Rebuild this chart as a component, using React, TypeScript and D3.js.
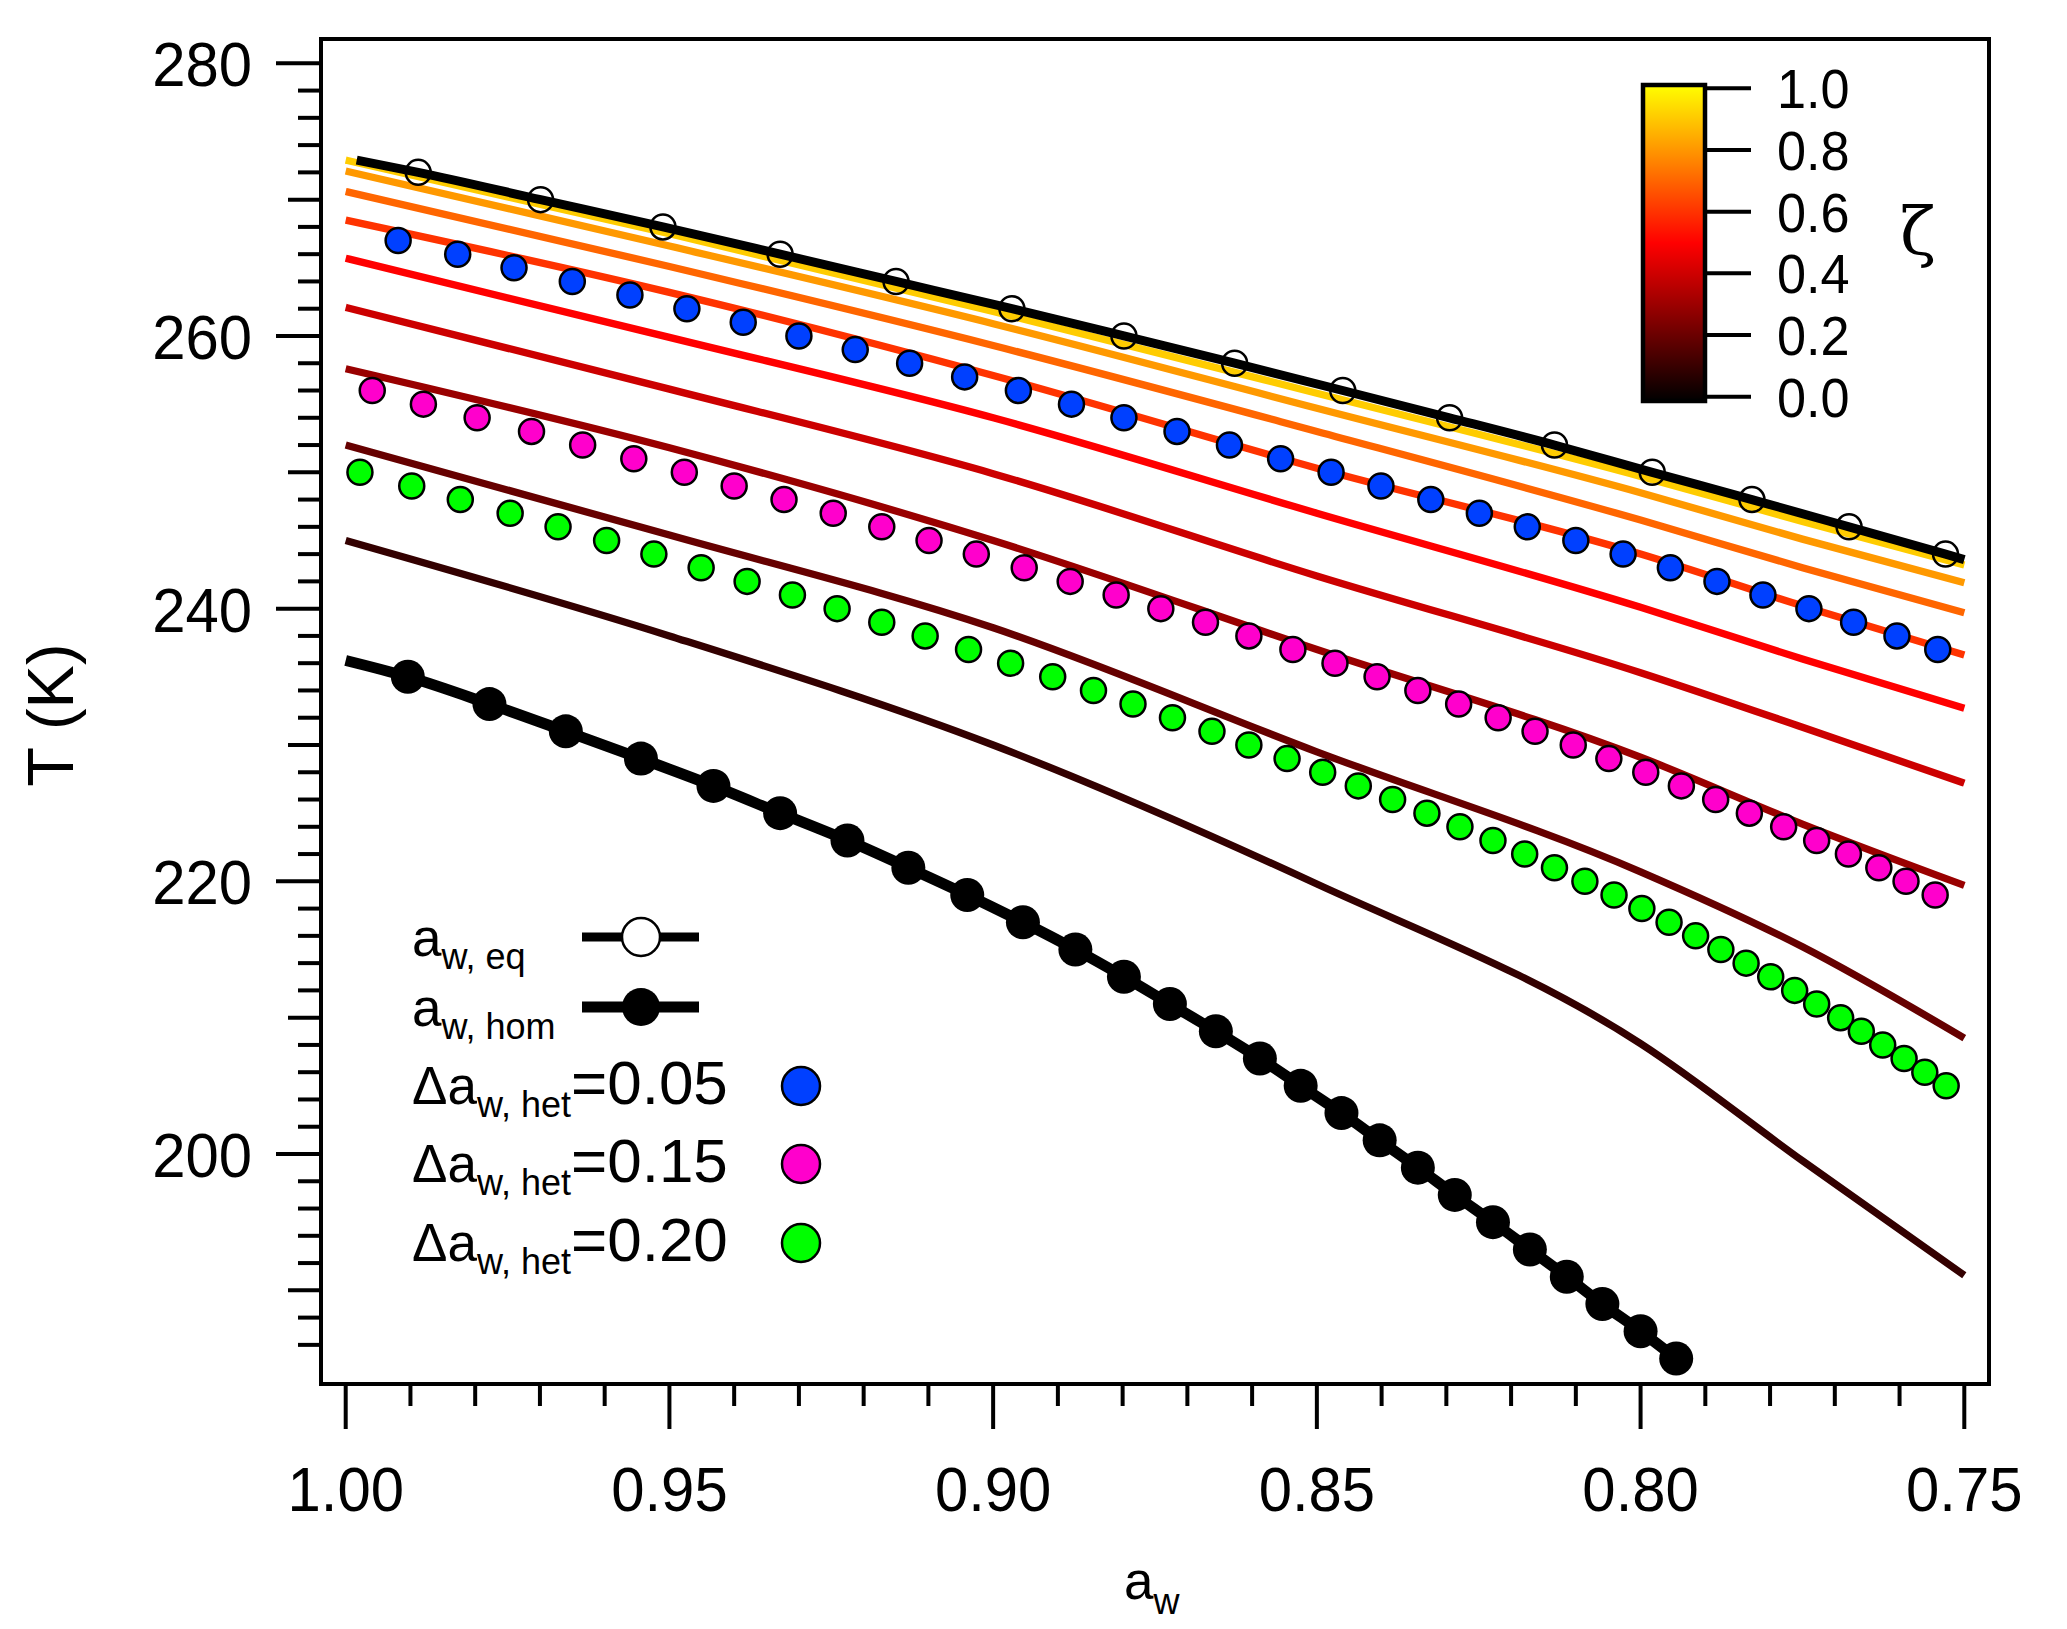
import React from "react";
import * as d3 from "d3";

const W = 2067;
const H = 1629;
const FONT = "'Liberation Sans', Arial, Helvetica, sans-serif";

// model curves for different zeta, T (K) read at these water activities
const curveAw = [1.0, 0.95, 0.9, 0.85, 0.8, 0.775, 0.75];
const zetaList = [0.9, 0.8, 0.7, 0.6, 0.5, 0.4, 0.3, 0.2, 0.1];
const tZeta09 = [272.9, 267.5, 261.8, 255.8, 249.7, 246.4, 243.2];
const tZeta08 = [272.1, 266.6, 260.9, 254.7, 248.5, 245.1, 241.9];
const tZeta07 = [270.6, 265.1, 259.3, 253.0, 246.5, 243.0, 239.7];
const tZeta06 = [268.5, 263.2, 257.1, 250.3, 244.0, 240.2, 236.6];
const tZeta05 = [265.7, 259.9, 254.0, 247.0, 240.1, 236.3, 232.7];
const tZeta04 = [262.1, 256.1, 249.9, 242.4, 235.3, 231.3, 227.2];
const tZeta03 = [257.6, 251.8, 245.0, 237.0, 229.1, 224.2, 219.7];
const tZeta02 = [252.0, 245.4, 238.6, 229.5, 220.7, 215.2, 208.5];
const tZeta01 = [245.0, 238.0, 230.0, 219.8, 208.1, 199.5, 191.1];
const zetaCurves = [tZeta09, tZeta08, tZeta07, tZeta06, tZeta05, tZeta04, tZeta03, tZeta02, tZeta01];

// ice melting (equilibrium) curve
const eqStart = [0.9983, 272.9];
const eqEnd = [0.75, 243.6];
const eqT = [272, 270, 268, 266, 264, 262, 260, 258, 256, 254, 252, 250, 248, 246, 244];
const eqAw = [0.9888, 0.9699, 0.951, 0.9329, 0.915, 0.8971, 0.8798, 0.8627, 0.846, 0.8295, 0.8133, 0.7982, 0.7828, 0.7678, 0.7529];

// homogeneous freezing curve
const homStart = [1.0, 236.2];
const homT = [235, 233, 231, 229, 227, 225, 223, 221, 219, 217, 215, 213, 211, 209, 207, 205, 203, 201, 199, 197, 195, 193, 191, 189, 187, 185];
const homAw = [0.9904, 0.9778, 0.966, 0.9544, 0.9432, 0.9329, 0.9225, 0.9131, 0.904, 0.8954, 0.8873, 0.8798, 0.8727, 0.8656, 0.8588, 0.8525, 0.8462, 0.8403, 0.8344, 0.8287, 0.8228, 0.8171, 0.8114, 0.8059, 0.8, 0.7945];

// heterogeneous freezing, delta a_w = 0.05
const het05T = [267, 266, 265, 264, 263, 262, 261, 260, 259, 258, 257, 256, 255, 254, 253, 252, 251, 250, 249, 248, 247, 246, 245, 244, 243, 242, 241, 240, 239, 238, 237];
const het05Aw = [0.9919, 0.9827, 0.974, 0.965, 0.9561, 0.9473, 0.9386, 0.93, 0.9213, 0.9129, 0.9044, 0.8961, 0.8879, 0.8798, 0.8716, 0.8635, 0.8556, 0.8478, 0.8401, 0.8324, 0.8249, 0.8175, 0.81, 0.8027, 0.7954, 0.7882, 0.7811, 0.774, 0.7671, 0.7604, 0.7541];

// delta a_w = 0.15
const het15T = [256, 255, 254, 253, 252, 251, 250, 249, 248, 247, 246, 245, 244, 243, 242, 241, 240, 239, 238, 237, 236, 235, 234, 233, 232, 231, 230, 229, 228, 227, 226, 225, 224, 223, 222, 221, 220, 219];
const het15Aw = [0.9959, 0.988, 0.9797, 0.9713, 0.9634, 0.9555, 0.9477, 0.94, 0.9323, 0.9247, 0.9172, 0.9099, 0.9026, 0.8952, 0.8881, 0.881, 0.8741, 0.8672, 0.8605, 0.8537, 0.8472, 0.8407, 0.8344, 0.8281, 0.822, 0.8163, 0.8104, 0.8049, 0.7992, 0.7937, 0.7884, 0.7832, 0.7779, 0.7728, 0.7679, 0.7632, 0.759, 0.7545];

// delta a_w = 0.20
const het20T = [250, 249, 248, 247, 246, 245, 244, 243, 242, 241, 240, 239, 238, 237, 236, 235, 234, 233, 232, 231, 230, 229, 228, 227, 226, 225, 224, 223, 222, 221, 220, 219, 218, 217, 216, 215, 214, 213, 212, 211, 210, 209, 208, 207, 206, 205];
const het20Aw = [0.9978, 0.9898, 0.9823, 0.9746, 0.9672, 0.9597, 0.9524, 0.9451, 0.938, 0.931, 0.9241, 0.9172, 0.9105, 0.9038, 0.8973, 0.8908, 0.8845, 0.8784, 0.8723, 0.8662, 0.8605, 0.8546, 0.8491, 0.8436, 0.8383, 0.833, 0.8279, 0.8228, 0.8179, 0.8133, 0.8086, 0.8041, 0.7998, 0.7956, 0.7915, 0.7876, 0.7837, 0.7799, 0.7762, 0.7728, 0.7691, 0.7659, 0.7626, 0.7593, 0.7561, 0.7528];

const xMajor = [1.0, 0.95, 0.9, 0.85, 0.8, 0.75];
const yMajor = [200, 220, 240, 260, 280];
const cbTicks = [0.0, 0.2, 0.4, 0.6, 0.8, 1.0];

const hetSeries = [
  { label: "0.05", color: "#0040ff", t: het05T, aw: het05Aw },
  { label: "0.15", color: "#ff00cc", t: het15T, aw: het15Aw },
  { label: "0.20", color: "#00ff00", t: het20T, aw: het20Aw },
];

const FRAME = { left: 321, right: 1989, top: 39, bottom: 1384 };
const NUM_SIZE = 63;
const NUM_SQUEEZE = 0.95;

function Num({ x, y, anchor, size, children }: { x: number; y: number; anchor?: string; size?: number; children: React.ReactNode }) {
  return (
    <text
      transform={`translate(${x},${y}) scale(${NUM_SQUEEZE},1)`}
      fontSize={size || NUM_SIZE}
      textAnchor={anchor || "start"}
    >
      {children}
    </text>
  );
}

export default function App() {
  const x = d3.scaleLinear().domain([1.0, 0.75]).range([345.7, 1964.3]);
  const y = d3.scaleLinear().domain([280, 200]).range([63.3, 1154]);
  const zetaColor = d3
    .scaleLinear<string>()
    .domain([0, 0.5, 1])
    .range(["#000000", "#ff0000", "#ffff00"]);
  const cb = d3.scaleLinear().domain([0, 1]).range([396.7, 88.3]);

  const line = d3
    .line<number[]>()
    .x((d) => x(d[0]))
    .y((d) => y(d[1]))
    .curve(d3.curveMonotoneX);

  const minorX = d3.range(0, 26).map((i) => 1.0 - i * 0.01);
  const minorY = d3.range(186, 281, 2);

  const eqPts = [eqStart, ...eqAw.map((a, i) => [a, eqT[i]]), eqEnd];
  const homPts = [homStart, ...homAw.map((a, i) => [a, homT[i]])];

  const legendX = 412;
  const legendRows = [937, 1007, 1086, 1164, 1243];

  return (
    <svg
      width={W}
      height={H}
      style={{ position: "absolute", left: 0, top: 0, background: "#fff" }}
      fontFamily={FONT}
    >
      <rect width={W} height={H} fill="#fff" />

      {/* zeta curves */}
      {zetaCurves.map((ts, i) => (
        <path
          key={"z" + i}
          d={line(curveAw.map((a, j) => [a, ts[j]])) || ""}
          fill="none"
          stroke={zetaColor(zetaList[i])}
          strokeWidth={7.3}
        />
      ))}

      {/* equilibrium curve */}
      <path d={line(eqPts) || ""} fill="none" stroke="#000" strokeWidth={9} />
      {eqAw.map((a, i) => (
        <circle key={"e" + i} cx={x(a)} cy={y(eqT[i])} r={12.5} fill="none" stroke="#000" strokeWidth={2.5} />
      ))}

      {/* homogeneous curve */}
      <path d={line(homPts) || ""} fill="none" stroke="#000" strokeWidth={11} />
      {homAw.map((a, i) => (
        <circle key={"h" + i} cx={x(a)} cy={y(homT[i])} r={17} fill="#000" />
      ))}

      {/* heterogeneous points */}
      {hetSeries.map((s) =>
        s.aw.map((a, i) => (
          <circle
            key={s.label + i}
            cx={x(a)}
            cy={y(s.t[i])}
            r={12.5}
            fill={s.color}
            stroke="#000"
            strokeWidth={2.5}
          />
        ))
      )}

      {/* frame */}
      <rect
        x={FRAME.left}
        y={FRAME.top}
        width={FRAME.right - FRAME.left}
        height={FRAME.bottom - FRAME.top}
        fill="none"
        stroke="#000"
        strokeWidth={4}
      />

      {/* x axis */}
      {minorX.map((v, i) => {
        const major = i % 5 === 0;
        return (
          <line
            key={"xt" + i}
            x1={x(v)}
            x2={x(v)}
            y1={FRAME.bottom}
            y2={FRAME.bottom + (major ? 45 : 22)}
            stroke="#000"
            strokeWidth={4}
          />
        );
      })}
      {xMajor.map((v) => (
        <Num key={"xl" + v} x={x(v)} y={1511} anchor="middle">
          {d3.format(".2f")(v)}
        </Num>
      ))}

      {/* y axis */}
      {minorY.map((v) => {
        const len = v % 20 === 0 ? 45 : v % 10 === 0 ? 33 : 23;
        return (
          <line
            key={"yt" + v}
            x1={FRAME.left}
            x2={FRAME.left - len}
            y1={y(v)}
            y2={y(v)}
            stroke="#000"
            strokeWidth={4}
          />
        );
      })}
      {yMajor.map((v) => (
        <Num key={"yl" + v} x={252} y={y(v) + 23} anchor="end">
          {v}
        </Num>
      ))}

      {/* axis titles */}
      <text transform="translate(73,715) rotate(-90)" fontSize={65} textAnchor="middle">
        T (K)
      </text>
      <text x={1124} y={1599} fontSize={53}>
        a
        <tspan fontSize={36} dy={15}>w</tspan>
      </text>

      {/* colorbar */}
      <defs>
        <linearGradient id="zetaGrad" x1="0" y1="1" x2="0" y2="0">
          {[0, 0.25, 0.5, 0.75, 1].map((v) => (
            <stop key={v} offset={v} stopColor={zetaColor(v)} />
          ))}
        </linearGradient>
      </defs>
      <rect
        x={1643}
        y={85}
        width={62}
        height={316}
        fill="url(#zetaGrad)"
        stroke="#000"
        strokeWidth={4.5}
      />
      {cbTicks.map((v) => (
        <g key={"cb" + v}>
          <line x1={1707} x2={1751} y1={cb(v)} y2={cb(v)} stroke="#000" strokeWidth={4} />
          <Num x={1777} y={cb(v) + 20} size={55}>
            {d3.format(".1f")(v)}
          </Num>
        </g>
      ))}
      <text x={1918} y={254} fontSize={66} textAnchor="middle" fontFamily="'DejaVu Serif', 'Liberation Serif', serif">
        ζ
      </text>

      {/* legend */}
      <g>
        <text x={legendX} y={legendRows[0] + 19} fontSize={53}>
          a<tspan fontSize={36} dy={13}>w, eq</tspan>
        </text>
        <line x1={582} x2={699} y1={legendRows[0]} y2={legendRows[0]} stroke="#000" strokeWidth={9} />
        <circle cx={641} cy={legendRows[0]} r={19} fill="#fff" stroke="#000" strokeWidth={2.5} />

        <text x={legendX} y={legendRows[1] + 19} fontSize={53}>
          a<tspan fontSize={36} dy={13}>w, hom</tspan>
        </text>
        <line x1={582} x2={699} y1={legendRows[1]} y2={legendRows[1]} stroke="#000" strokeWidth={11} />
        <circle cx={641} cy={legendRows[1]} r={19} fill="#000" />

        {hetSeries.map((s, i) => {
          const ry = legendRows[2 + i];
          return (
            <g key={"lg" + s.label}>
              <text x={legendX} y={ry + 18} fontSize={53}>
                Δa<tspan fontSize={36} dy={13}>w, het</tspan>
                <tspan fontSize={62} dy={-13}>={s.label}</tspan>
              </text>
              <circle cx={801} cy={ry} r={19} fill={s.color} stroke="#000" strokeWidth={2.5} />
            </g>
          );
        })}
      </g>
    </svg>
  );
}
